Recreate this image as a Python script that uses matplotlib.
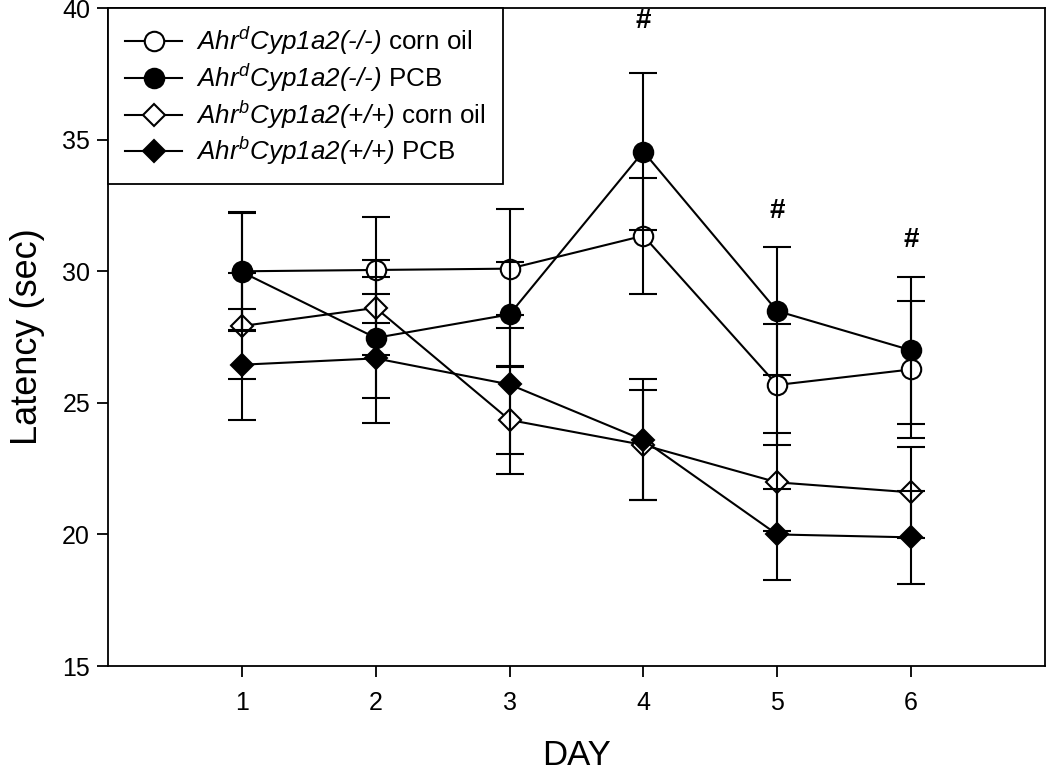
import numpy as np
import matplotlib
matplotlib.use("Agg")
import matplotlib.pyplot as plt

plt.rcParams['font.family'] = ['Liberation Sans', 'DejaVu Sans']
plt.rcParams['mathtext.fontset'] = 'custom'
plt.rcParams['mathtext.rm'] = 'Liberation Sans:italic'
plt.rcParams['mathtext.it'] = 'Liberation Sans:italic'

# data
days = [1, 2, 3, 4, 5, 6]

ko_oil = [30.0, 30.05, 30.1, 31.35, 25.68, 26.27]
ko_oil_err = [2.25, 2.0, 2.25, 2.2, 2.3, 2.6]

ko_pcb = [29.97, 27.47, 28.36, 34.55, 28.49, 27.0]
ko_pcb_err = [2.25, 2.3, 2.0, 3.0, 2.45, 2.8]

wt_oil = [27.92, 28.61, 24.35, 23.4, 21.98, 21.6]
wt_oil_err = [2.0, 1.8, 2.05, 2.1, 1.86, 1.73]

wt_pcb = [26.45, 26.69, 25.7, 23.59, 20.0, 19.89]
wt_pcb_err = [2.1, 2.45, 2.63, 2.3, 1.73, 1.77]

sig_days = [4, 5, 6]
sig_y = [39.5, 32.3, 31.2]

labels = [r'$\mathit{Ahr}^{d}\mathit{Cyp1a2(‐/‐)}$ corn oil',
          r'$\mathit{Ahr}^{d}\mathit{Cyp1a2(‐/‐)}$ PCB',
          r'$\mathit{Ahr}^{b}\mathit{Cyp1a2(}{+}\mathit{/}{+}\mathit{)}$ corn oil',
          r'$\mathit{Ahr}^{b}\mathit{Cyp1a2(}{+}\mathit{/}{+}\mathit{)}$ PCB']

fig = plt.figure(figsize=(10.5, 7.74), dpi=100, facecolor='white')
ax = fig.add_axes([0.103, 0.1395, 0.892, 0.850])

series = [(ko_oil, ko_oil_err, 'o', 'white', 14),
          (ko_pcb, ko_pcb_err, 'o', 'black', 14),
          (wt_oil, wt_oil_err, 'D', 'white', 11),
          (wt_pcb, wt_pcb_err, 'D', 'black', 11)]

for (vals, errs, mk, fc, ms), lab in zip(series, labels):
    ax.plot(days, vals, color='black', lw=1.5, marker=mk, ms=ms,
            mfc=fc, mec='black', mew=1.5, label=lab, zorder=3)
    ax.errorbar(days, vals, yerr=errs, fmt='none', ecolor='black',
                elinewidth=1.5, capsize=10, capthick=1.5, zorder=4)

for d, y in zip(sig_days, sig_y):
    ax.text(d, y, '#', ha='center', va='center', fontsize=20, fontweight='bold')

ax.set_xlim(0, 7)
ax.set_ylim(15, 40)
ax.set_xticks(days)
ax.set_yticks([15, 20, 25, 30, 35, 40])
ax.tick_params(direction='out', length=8, width=1.3, labelsize=18, pad=10)
ax.tick_params(axis='y', pad=5)
for sp in ax.spines.values():
    sp.set_linewidth(1.3)

ax.set_xlabel('DAY', fontsize=25, labelpad=17)
ax.set_ylabel('Latency (sec)', fontsize=26, labelpad=12)

leg = ax.legend(loc='upper left', bbox_to_anchor=(0, 1), borderaxespad=0,
                fontsize=18.7, fancybox=False, edgecolor='black', framealpha=1,
                labelspacing=0.18, borderpad=0.65, handlelength=2.2,
                handletextpad=0.55)
leg.get_frame().set_linewidth(1.3)

fig.savefig('out.png', dpi=100, facecolor='white')
